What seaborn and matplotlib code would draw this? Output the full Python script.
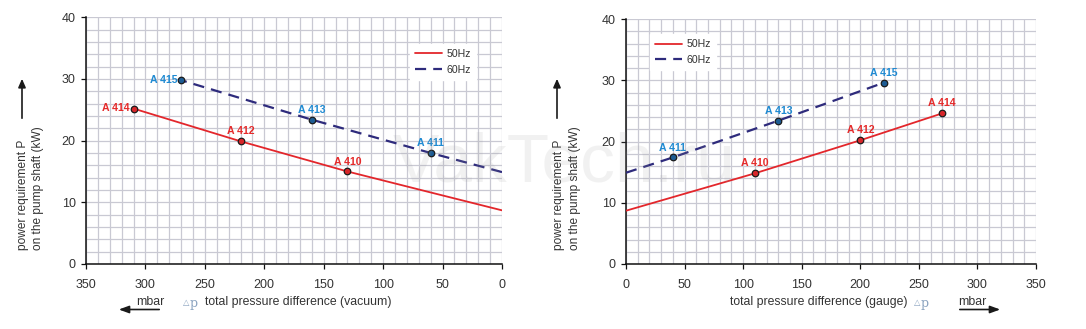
import matplotlib
matplotlib.use("Agg")
import matplotlib.pyplot as plt
import pandas as pd
import seaborn as sns

# ---- data -----------------------------------------------------------------
# Vacuum operation (left): pressure difference in mbar, shaft power in kW
vac_50_dp = [310, 220, 130, 60, 0]
vac_50_kw = [25.2, 19.9, 15.0, 11.6, 8.7]
vac_60_dp = [270, 160, 60, 0]
vac_60_kw = [29.8, 23.4, 18.0, 14.9]

vac_50_pts_dp = [310, 220, 130]
vac_50_pts_kw = [25.2, 19.9, 15.0]
vac_50_names = ["A 414", "A 412", "A 410"]
vac_60_pts_dp = [270, 160, 60]
vac_60_pts_kw = [29.8, 23.4, 18.0]
vac_60_names = ["A 415", "A 413", "A 411"]

# Pressure operation (right)
gau_50_dp = [0, 110, 200, 270]
gau_50_kw = [8.7, 14.8, 20.2, 24.6]
gau_60_dp = [0, 40, 130, 220]
gau_60_kw = [14.9, 17.4, 23.4, 29.6]

gau_50_pts_dp = [110, 200, 270]
gau_50_pts_kw = [14.8, 20.2, 24.6]
gau_50_names = ["A 410", "A 412", "A 414"]
gau_60_pts_dp = [40, 130, 220]
gau_60_pts_kw = [17.4, 23.4, 29.6]
gau_60_names = ["A 411", "A 413", "A 415"]

x_ticks = [0, 50, 100, 150, 200, 250, 300, 350]
y_ticks = [0, 10, 20, 30, 40]
series_labels = ["50Hz", "60Hz"]

# ---- style ----------------------------------------------------------------
sns.set_theme(style="white")
plt.rcParams["font.family"] = ["Liberation Sans", "DejaVu Sans"]

RED_LINE = "#e3262b"
NAVY_LINE = "#2e2b7c"
RED_TXT = "#e52a2a"
BLUE_TXT = "#1f8ad2"
RED_DOT = "#d8262a"
BLUE_DOT = "#1d5c94"
GRID = "#c9c9d3"
TEXT = "#333333"

fig = plt.figure(figsize=(10.86, 3.29), dpi=100)
ax_l = fig.add_axes([86 / 1086, 1 - 264 / 329, 416 / 1086, 246.7 / 329])
ax_r = fig.add_axes([626 / 1086, 1 - 264 / 329, 410 / 1086, 245 / 329])


def style_axes(ax, reverse):
    ax.set_xlim(350, 0) if reverse else ax.set_xlim(0, 350)
    ax.set_ylim(0, 40)
    ax.set_xticks(x_ticks)
    ax.set_yticks(y_ticks)
    ax.set_xticks(range(0, 351, 10), minor=True)
    ax.set_yticks(range(0, 41, 2), minor=True)
    ax.grid(True, which="both", color=GRID, lw=0.9, zorder=0)
    ax.set_axisbelow(True)
    for side in ("top", "right"):
        ax.spines[side].set_visible(False)
    for side in ("left", "bottom"):
        ax.spines[side].set_color("#111111")
        ax.spines[side].set_linewidth(1.1)
    ax.tick_params(which="major", direction="out", length=3.5, width=0.9,
                   color="#111111", labelsize=9, labelcolor=TEXT,
                   left=True, bottom=True)
    ax.tick_params(axis="x", which="major", pad=7)
    ax.tick_params(axis="y", which="major", pad=4)
    ax.tick_params(which="minor", length=0)
    ax.set_xlabel("")
    ax.set_ylabel("")


def draw_series(ax, dp, kw, pdp, pkw, names, color, dot, txt, label, dashed):
    line_df = pd.DataFrame({"dp": dp, "kw": kw})
    kws = dict(color=color, lw=1.6 if dashed else 1.3, label=label,
               estimator=None, zorder=3)
    if dashed:
        kws["linestyle"] = (0, (5, 3.2))
    sns.lineplot(data=line_df, x="dp", y="kw", ax=ax, **kws)
    pts_df = pd.DataFrame({"dp": pdp, "kw": pkw})
    sns.scatterplot(data=pts_df, x="dp", y="kw", ax=ax, s=22, color=dot,
                    edgecolor="#1a1a1a", linewidth=0.9, zorder=4, legend=False)
    return pts_df, names, txt


style_axes(ax_l, reverse=True)
style_axes(ax_r, reverse=False)

draw_series(ax_l, vac_50_dp, vac_50_kw, vac_50_pts_dp, vac_50_pts_kw,
            vac_50_names, RED_LINE, RED_DOT, RED_TXT, series_labels[0], False)
draw_series(ax_l, vac_60_dp, vac_60_kw, vac_60_pts_dp, vac_60_pts_kw,
            vac_60_names, NAVY_LINE, BLUE_DOT, BLUE_TXT, series_labels[1], True)
draw_series(ax_r, gau_50_dp, gau_50_kw, gau_50_pts_dp, gau_50_pts_kw,
            gau_50_names, RED_LINE, RED_DOT, RED_TXT, series_labels[0], False)
draw_series(ax_r, gau_60_dp, gau_60_kw, gau_60_pts_dp, gau_60_pts_kw,
            gau_60_names, NAVY_LINE, BLUE_DOT, BLUE_TXT, series_labels[1], True)

# restore axis labels cleared by seaborn
for ax in (ax_l, ax_r):
    ax.set_xlabel("")
    ax.set_ylabel("")

# ---- point labels ---------------------------------------------------------
lab_kw = dict(fontsize=7.6, fontweight="bold", textcoords="offset points",
              zorder=5)


def label_points(ax, xs, ys, names, color, sides):
    for x, y, name, side in zip(xs, ys, names, sides):
        if side == "left":
            ax.annotate(name, (x, y), xytext=(-2.5, 0.5), ha="right",
                        va="center", color=color, **lab_kw)
        else:
            ax.annotate(name, (x, y), xytext=(0, 3.5), ha="center",
                        va="bottom", color=color, **lab_kw)


label_points(ax_l, vac_50_pts_dp, vac_50_pts_kw, vac_50_names, RED_TXT,
             ["left", "above", "above"])
label_points(ax_l, vac_60_pts_dp, vac_60_pts_kw, vac_60_names, BLUE_TXT,
             ["left", "above", "above"])
label_points(ax_r, gau_50_pts_dp, gau_50_pts_kw, gau_50_names, RED_TXT,
             ["above", "above", "above"])
label_points(ax_r, gau_60_pts_dp, gau_60_pts_kw, gau_60_names, BLUE_TXT,
             ["above", "above", "above"])

# ---- legends --------------------------------------------------------------
for ax, anchor in ((ax_l, (0.765, 0.915)), (ax_r, (0.045, 0.96))):
    handles, labels = ax.get_legend_handles_labels()
    leg = ax.legend(handles[:2], labels[:2], loc="upper left",
                    bbox_to_anchor=anchor, fontsize=7.6, frameon=True,
                    facecolor="white", edgecolor="white", framealpha=1,
                    fancybox=False, handlelength=2.6, handletextpad=0.4,
                    labelspacing=0.55, borderpad=0.5, labelcolor=TEXT)
    leg.set_zorder(6)

# ---- axis titles ----------------------------------------------------------
def y_title(x1, x2, xarrow):
    fig.text(x1 / 1086, 1 - 250 / 329, "power requirement P", rotation=90,
             ha="center", va="bottom", fontsize=8.6, color=TEXT)
    fig.text(x2 / 1086, 1 - 250 / 329, "on the pump shaft (kW)", rotation=90,
             ha="center", va="bottom", fontsize=8.6, color=TEXT)
    fig.add_artist(matplotlib.patches.FancyArrowPatch(
        (xarrow / 1086, 1 - 121 / 329), (xarrow / 1086, 1 - 76 / 329),
        transform=fig.transFigure, arrowstyle="-|>,head_length=5,head_width=2.2",
        color="#1a1a1a", lw=1.2, mutation_scale=1))


y_title(23, 38, 22)
y_title(559, 575, 557)


def mbar_arrow(xc, x_from, x_to):
    fig.text(xc / 1086, 1 - 302 / 329, "mbar", ha="center", va="center",
             fontsize=8.8, color=TEXT)
    fig.add_artist(matplotlib.patches.FancyArrowPatch(
        (x_from / 1086, 1 - 309.5 / 329), (x_to / 1086, 1 - 309.5 / 329),
        transform=fig.transFigure, arrowstyle="-|>,head_length=6,head_width=2.2",
        color="#1a1a1a", lw=1.2, mutation_scale=1))


DP_COLOR = "#8aa3c0"
fig.text(205 / 1086, 1 - 302 / 329, "total pressure difference (vacuum)",
         ha="left", va="center", fontsize=8.8, color=TEXT)
fig.text(183 / 1086, 1 - 302 / 329, "\u25b3", ha="left", va="center",
         fontsize=6, color=DP_COLOR, family="DejaVu Sans")
fig.text(190 / 1086, 1 - 303 / 329, "p", ha="left", va="center",
         fontsize=9, color=DP_COLOR, family="DejaVu Serif")
mbar_arrow(150, 162, 116)

fig.text(730 / 1086, 1 - 302 / 329, "total pressure difference (gauge)",
         ha="left", va="center", fontsize=8.8, color=TEXT)
fig.text(914 / 1086, 1 - 302 / 329, "\u25b3", ha="left", va="center",
         fontsize=6, color=DP_COLOR, family="DejaVu Sans")
fig.text(921 / 1086, 1 - 303 / 329, "p", ha="left", va="center",
         fontsize=9, color=DP_COLOR, family="DejaVu Serif")
mbar_arrow(972, 957, 1003)

# faint watermark
fig.text(393 / 1086, 1 - 182 / 329, "VakTech.ru", ha="left", va="baseline",
         fontsize=50, color="#9a9a9a", alpha=0.13, zorder=10)

fig.savefig("out.png", dpi=100, facecolor="white")
